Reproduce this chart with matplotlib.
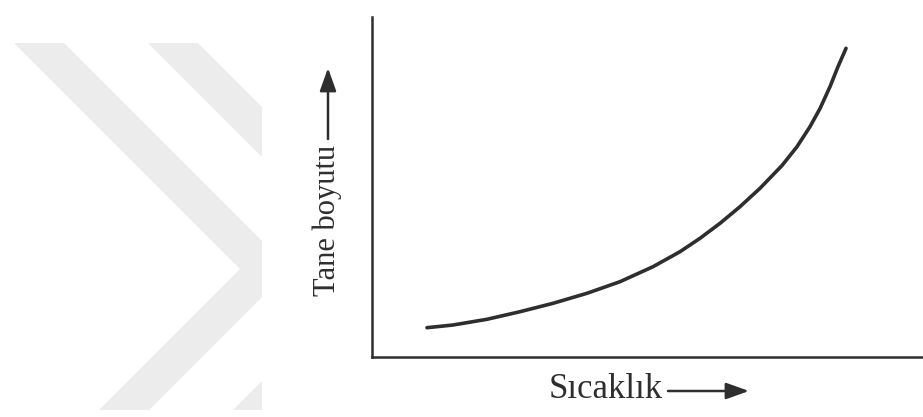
"""
    Tane boyutu - sicaklik sketch (scanned figure redraw)
"""
import numpy as np
from matplotlib import pyplot as plt
from matplotlib.patches import Polygon, Rectangle

# curve, axis units 0..100
SICAKLIK = [9.98, 14.70, 20.87, 26.86, 32.85, 39.02, 45.01, 51.00, 55.90, 59.53,
            63.16, 66.79, 70.42, 74.41, 77.13, 79.49, 81.31, 83.12, 84.57, 86.03]
TANE_BOYUTU = [8.62, 9.41, 11.09, 13.32, 15.79, 18.74, 22.15, 26.56, 30.97, 34.91,
               39.32, 44.21, 49.62, 56.32, 61.85, 67.74, 73.09, 79.50, 85.38, 90.79]

X_LABEL = "Sıcaklık"
Y_LABEL = "Tane boyutu"

W, H = 923, 417
WATERMARK_COLOR = "#ececec"
INK = "#2e2e2e"


def chevron(shift):
    # 45 degree band, pixel coords of the figure
    return [(14 + shift, 43), (64 + shift, 43), (290 + shift, 269),
            (149 + shift, 410), (99 + shift, 410), (240 + shift, 269)]


fig = plt.figure(figsize=(W / 100, H / 100), dpi=100)
plt.rcParams['font.family'] = ['Liberation Serif', 'DejaVu Serif']

# background watermark
ax_bg = fig.add_axes([0, 0, 1, 1])
ax_bg.set_xlim(0, W)
ax_bg.set_ylim(H, 0)
ax_bg.axis("off")
clip = Rectangle((0, 0), 262, H, transform=ax_bg.transData)
for shift in (0, 134):
    p = Polygon(chevron(shift), closed=True, facecolor=WATERMARK_COLOR,
                edgecolor="none")
    ax_bg.add_patch(p)
    p.set_clip_path(clip)

# main axes
ax = fig.add_axes([372 / W, (H - 357) / H, (W - 372) / W, (357 - 17) / H])
ax.patch.set_alpha(0)
ax.plot(SICAKLIK, TANE_BOYUTU, "-", color=INK, lw=2.6,
        solid_capstyle="round", solid_joinstyle="round")
ax.set_xlim(0, 100)
ax.set_ylim(0, 100)
ax.set_xticks([])
ax.set_yticks([])
for side in ("top", "right"):
    ax.spines[side].set_visible(False)
for side in ("left", "bottom"):
    ax.spines[side].set_linewidth(1.8)
    ax.spines[side].set_color(INK)

arrow = dict(arrowstyle="-|>,head_length=1.4,head_width=0.5",
             color=INK, lw=1.8, shrinkA=0, shrinkB=0)

# x label with arrow
ax_bg.text(606, 390, X_LABEL, fontsize=25, ha="center", va="center",
           color=INK)
ax_bg.annotate("", xy=(749, 391), xytext=(668, 391), arrowprops=arrow)

# y label with arrow
ax_bg.text(327, 220, Y_LABEL, fontsize=22, ha="center", va="center",
           rotation=90, color=INK)
ax_bg.annotate("", xy=(328, 68), xytext=(328, 139), arrowprops=arrow)

plt.savefig("out.png", dpi=100)
plt.close()
